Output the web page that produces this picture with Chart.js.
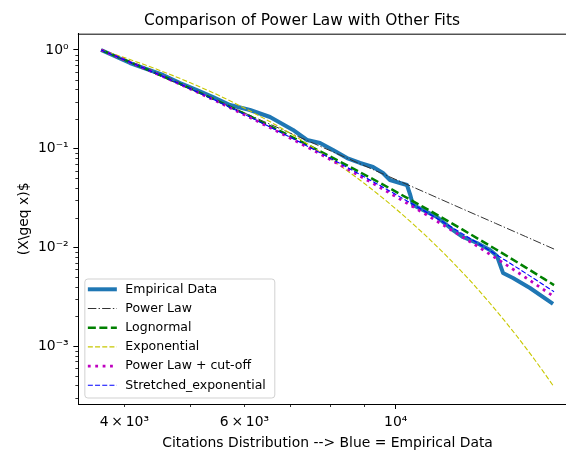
<!DOCTYPE html>
<html><head><meta charset="utf-8">
<script src="https://cdn.jsdelivr.net/npm/chart.js@4"></script>
<style>
html,body{margin:0;padding:0;background:#fff;overflow:hidden}
#wrap{width:566px;height:454px;overflow:hidden;position:relative}
canvas{display:block}
</style>
</head><body><div id="wrap"><canvas id="c" width="604" height="454"></canvas></div>
<script>
// ---- data ----
const empiricalX = [3698,4078,4558,4828,5112,5397,5715,6114,6542,7070,7413,7745,8093,8484,8866,9263,9580,9809,10146,10389,10495,10602,11115,11497,11734,12134,12550,13158,13750,14078,14367,14859,15737,17011];
const empiricalY = [1.0,0.738,0.558,0.463,0.393,0.334,0.277,0.2465,0.2094,0.1546,0.1224,0.1141,0.0970,0.0804,0.0716,0.0652,0.0567,0.0481,0.0449,0.0428,0.0347,0.0269,0.0228,0.0203,0.01806,0.01498,0.01273,0.01107,0.0094,0.00817,0.0055,0.00489,0.00387,0.00267];

const fitX = [3700,4500,5500,6500,7500,8500,9500,11000,12500,14000,15500,17070];
const powerLawY   = [1.0,0.5507,0.2995,0.1804,0.1168,0.0798,0.0569,0.0365,0.0247,0.01754,0.01288,0.0096];
const lognormalY  = [1.0,0.563,0.301,0.173,0.1055,0.0673,0.0446,0.0254,0.01527,0.00961,0.00627,0.00414];
const cutoffY     = [1.0,0.5605,0.2953,0.167,0.0996,0.0621,0.0402,0.02215,0.01287,0.00783,0.00495,0.00316];
const stretchedY  = [1.0,0.5615,0.2977,0.1697,0.1021,0.0643,0.042,0.0235,0.01386,0.00856,0.00548,0.00355];

const expX = [3700,4000,4500,5000,5500,6000,7000,8000,9000,10000,11000,12000,13000,14000,15000,16000,17070];
const expY = [1.0,0.837,0.624,0.465,0.347,0.258,0.1435,0.0797,0.0443,0.0246,0.01366,0.00759,0.00422,0.00234,0.0013,0.000722,0.000385];

const seriesLabels = ['Empirical Data','Power Law','Lognormal','Exponential','Power Law + cut-off','Stretched_exponential'];

const xTicks = [4000,5000,6000,7000,8000,9000,10000];
const xTickLabels = {'4000':'4\u2009×\u200910³','6000':'6\u2009×\u200910³','10000':'10⁴'};
const xMajor = [10000];
const yTicks = [0.0003,0.0004,0.0005,0.0006,0.0007,0.0008,0.0009,0.001,0.002,0.003,0.004,0.005,0.006,0.007,0.008,0.009,0.01,0.02,0.03,0.04,0.05,0.06,0.07,0.08,0.09,0.1,0.2,0.3,0.4,0.5,0.6,0.7,0.8,0.9,1];
const yTickLabels = {'0.001':'10⁻³','0.01':'10⁻²','0.1':'10⁻¹','1':'10⁰'};

// ---- helpers ----
const pts = (xs, ys) => xs.map((x, i) => ({x: x, y: ys[i]}));
const FONT = "'DejaVu Sans', 'Liberation Sans', sans-serif";
Chart.defaults.font.family = FONT;
Chart.defaults.color = '#000';

const isXMajor = v => xMajor.indexOf(v) >= 0;
const isYMajor = v => (String(v) in yTickLabels);

const framePlugin = {
  id: 'frame',
  afterDraw(chart) {
    const {ctx, chartArea: a, scales} = chart;
    ctx.save();
    ctx.strokeStyle = '#000';
    ctx.lineWidth = 1;
    ctx.beginPath();
    ctx.moveTo(a.left - 0.5, a.top + 0.5); ctx.lineTo(a.right, a.top + 0.5);
    ctx.moveTo(a.right - 0.5, a.top); ctx.lineTo(a.right - 0.5, a.bottom);
    ctx.stroke();
    // minor tick marks (shorter)
    ctx.lineWidth = 0.8;
    ctx.beginPath();
    xTicks.forEach(v => {
      if (isXMajor(v)) return;
      const px = Math.round(scales.x.getPixelForValue(v)) + 0.5;
      ctx.moveTo(px, a.bottom); ctx.lineTo(px, a.bottom + 3);
    });
    yTicks.forEach(v => {
      if (isYMajor(v)) return;
      const py = Math.round(scales.y.getPixelForValue(v)) + 0.5;
      ctx.moveTo(a.left, py); ctx.lineTo(a.left - 3, py);
    });
    ctx.stroke();
    ctx.restore();
  }
};

const legendPlugin = {
  id: 'mplLegend',
  afterDatasetsDraw(chart) {
    const {ctx, chartArea: a} = chart;
    const ds = chart.data.datasets;
    const fs = 12.5, rowH = 19.2;
    ctx.save();
    ctx.font = fs + 'px ' + FONT;
    let maxW = 0;
    ds.forEach(d => { maxW = Math.max(maxW, ctx.measureText(d.label).width); });
    const left = a.left + 6.5;
    const bottom = a.bottom - 6;
    const height = 10.3 + rowH * (ds.length - 1) + 12.7;
    const top = bottom - height;
    const textX = left + 40.5;
    const width = 40.5 + maxW + 9;
    const r = 3;
    ctx.beginPath();
    ctx.moveTo(left + r, top);
    ctx.lineTo(left + width - r, top); ctx.quadraticCurveTo(left + width, top, left + width, top + r);
    ctx.lineTo(left + width, bottom - r); ctx.quadraticCurveTo(left + width, bottom, left + width - r, bottom);
    ctx.lineTo(left + r, bottom); ctx.quadraticCurveTo(left, bottom, left, bottom - r);
    ctx.lineTo(left, top + r); ctx.quadraticCurveTo(left, top, left + r, top);
    ctx.closePath();
    ctx.fillStyle = 'rgba(255,255,255,0.8)';
    ctx.fill();
    ctx.strokeStyle = 'rgba(204,204,204,0.9)';
    ctx.lineWidth = 1;
    ctx.stroke();
    ds.forEach((d, i) => {
      const y = top + 10.3 + i * rowH;
      ctx.save();
      ctx.strokeStyle = d.borderColor;
      ctx.lineWidth = d.borderWidth;
      ctx.setLineDash(d.borderDash || []);
      ctx.lineCap = 'butt';
      ctx.beginPath();
      ctx.moveTo(left + 3, y); ctx.lineTo(left + 32, y);
      ctx.stroke();
      ctx.restore();
      ctx.fillStyle = '#000';
      ctx.textBaseline = 'middle';
      ctx.textAlign = 'left';
      ctx.fillText(d.label, textX, y);
    });
    ctx.restore();
  }
};

const common = {pointRadius: 0, pointHoverRadius: 0, fill: false, borderCapStyle: 'butt', borderJoinStyle: 'round'};

new Chart(document.getElementById('c'), {
  type: 'line',
  data: {
    datasets: [
      Object.assign({}, common, {label: seriesLabels[0], data: pts(empiricalX, empiricalY), borderColor: '#1f77b4', borderWidth: 4, tension: 0, order: 6}),
      Object.assign({}, common, {label: seriesLabels[1], data: pts(fitX, powerLawY), borderColor: '#333333', borderWidth: 1, borderDash: [8.5, 2.2, 1.4, 2.2], tension: 0, order: 5}),
      Object.assign({}, common, {label: seriesLabels[2], data: pts(fitX, lognormalY), borderColor: '#008000', borderWidth: 2.5, borderDash: [8, 3.5], cubicInterpolationMode: 'monotone', order: 4}),
      Object.assign({}, common, {label: seriesLabels[3], data: pts(expX, expY), borderColor: '#c8c800', borderWidth: 1.1, borderDash: [5, 2.2], cubicInterpolationMode: 'monotone', order: 3}),
      Object.assign({}, common, {label: seriesLabels[4], data: pts(fitX, cutoffY), borderColor: '#bf00bf', borderWidth: 2.8, borderDash: [2.8, 4.6], cubicInterpolationMode: 'monotone', order: 2}),
      Object.assign({}, common, {label: seriesLabels[5], data: pts(fitX, stretchedY), borderColor: '#0000ff', borderWidth: 1.1, borderDash: [5, 2.2], cubicInterpolationMode: 'monotone', order: 1})
    ]
  },
  options: {
    responsive: false,
    animation: false,
    devicePixelRatio: 1,
    layout: {padding: {left: 0, right: 0, top: 0, bottom: 0}},
    plugins: {
      legend: {display: false},
      tooltip: {enabled: false},
      title: {
        display: true,
        text: 'Comparison of Power Law with Other Fits',
        font: {family: FONT, size: 15.4, weight: 'normal'},
        color: '#000',
        padding: {top: 11.3, bottom: 3.9}
      }
    },
    scales: {
      x: {
        type: 'logarithmic',
        position: 'bottom',
        min: 3425, max: 18426,
        afterBuildTicks: s => { s.ticks = xTicks.map(v => ({value: v, major: isXMajor(v)})); },
        afterFit: s => { s.height = 50; },
        ticks: {
          autoSkip: false, maxRotation: 0, minRotation: 0, padding: 5,
          font: {family: FONT, size: 13.9},
          color: '#000',
          callback: v => xTickLabels[String(v)] || ''
        },
        grid: {
          drawOnChartArea: false, drawTicks: true, tickLength: 5,
          tickWidth: 1,
          tickColor: c => (c.tick && isXMajor(c.tick.value)) ? '#000' : 'rgba(0,0,0,0)'
        },
        border: {display: true, color: '#000', width: 1},
        title: {
          display: true,
          text: 'Citations Distribution --> Blue = Empirical Data',
          font: {family: FONT, size: 13.9},
          color: '#000',
          padding: {top: 0, bottom: 2.3}
        }
      },
      y: {
        type: 'logarithmic',
        position: 'left',
        min: 0.0002584, max: 1.463,
        afterBuildTicks: s => { s.ticks = yTicks.map(v => ({value: v, major: isYMajor(v)})); },
        afterFit: s => { s.width = 78.35; },
        ticks: {
          autoSkip: false, padding: 4.8,
          font: {family: FONT, size: 13.9},
          color: '#000',
          callback: v => yTickLabels[String(v)] || ''
        },
        grid: {
          drawOnChartArea: false, drawTicks: true, tickLength: 5,
          tickWidth: 1,
          tickColor: c => (c.tick && isYMajor(c.tick.value)) ? '#000' : 'rgba(0,0,0,0)'
        },
        border: {display: true, color: '#000', width: 1},
        title: {
          display: true,
          text: '(X\\geq x)$',
          font: {family: FONT, size: 13.9},
          color: '#000',
          padding: {top: 16.5, bottom: 0}
        }
      },
      yRight: {
        type: 'linear',
        position: 'right',
        min: 0, max: 1,
        display: true,
        afterFit: s => { s.width = 27.3; },
        ticks: {display: false},
        grid: {display: false, drawTicks: false},
        border: {display: false}
      }
    }
  },
  plugins: [framePlugin, legendPlugin]
});
</script>
</body></html>
